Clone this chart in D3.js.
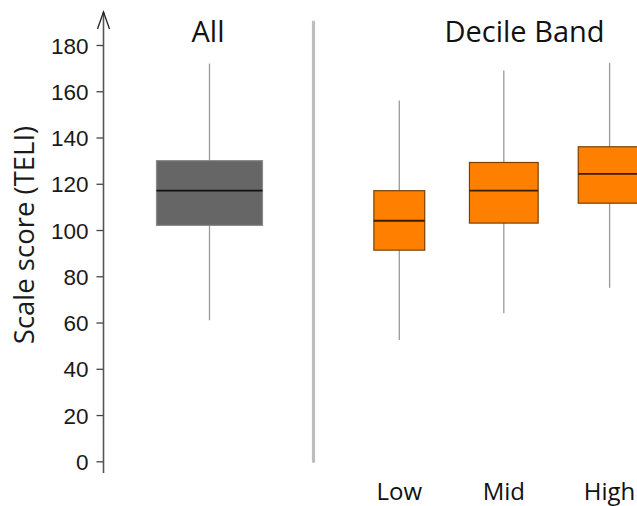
<!DOCTYPE html>
<html>
<head>
<meta charset="utf-8">
<script src="https://cdn.jsdelivr.net/npm/d3@7"></script>
<style>
  html, body { margin: 0; padding: 0; background: #fff; }
  svg { display: block; font-family: "Open Sans", "Noto Sans", sans-serif; }
</style>
</head>
<body>
<svg id="chart" width="637" height="506"></svg>
<script>
// ---- data ----
const groups = ["All", "Decile Band"];
const categories = ["All", "Low", "Mid", "High"];
const whiskerLow = [61, 52.5, 64, 75];
const q1 = [102, 91.3, 103, 111.6];
const median = [117, 104, 117, 124.3];
const q3 = [130, 117, 129.2, 136];
const whiskerHigh = [172, 156, 169, 172.3];
const relativeN = [100, 23, 42, 35];   // box width ∝ sqrt(n)
const yTicks = [0, 20, 40, 60, 80, 100, 120, 140, 160, 180];
const yLabel = "Scale score (TELI)";

// ---- layout ----
const svg = d3.select("#chart");
const axisX = 103.5;

const y = d3.scaleLinear().domain([0, 180]).range([461.3, 45]);
// category centres: All panel and Decile panel
const x = d3.scaleOrdinal().domain(categories).range([209.5, 399.3, 503.8, 609.6]);
const widthScale = d3.scaleSqrt().domain([0, 100]).range([0, 106]);

const fills = ["#666666", "#FF8000", "#FF8000", "#FF8000"];
const strokes = ["#8a8a8a", "#7a4000", "#7a4000", "#7a4000"];
const medStrokes = ["#111111", "#3a1c00", "#3a1c00", "#3a1c00"];

// ---- y axis ----
const yAxis = d3.axisLeft(y).tickValues(yTicks).tickSize(7).tickPadding(8);
const gAx = svg.append("g").attr("transform", `translate(${axisX},0)`).call(yAxis);
gAx.select(".domain").remove();
gAx.selectAll(".tick line").attr("stroke", "#444").attr("stroke-width", 1.3);
gAx.selectAll(".tick text")
  .attr("fill", "#1a1a1a")
  .style("font-size", "22.5px")
  .attr("dy", "0.36em");

// axis line with arrow
svg.append("line")
  .attr("x1", axisX).attr("x2", axisX)
  .attr("y1", 12).attr("y2", 473)
  .attr("stroke", "#555").attr("stroke-width", 1.6);
svg.append("path")
  .attr("d", `M${axisX - 6},${29} L${axisX},${12} L${axisX + 6},${29}`)
  .attr("fill", "none").attr("stroke", "#222").attr("stroke-width", 1.3);

// y label
svg.append("text")
  .attr("transform", `translate(34,235) rotate(-90)`)
  .attr("text-anchor", "middle")
  .attr("fill", "#1a1a1a")
  .style("font-size", "27.5px")
  .text(yLabel);

// divider
svg.append("line")
  .attr("x1", 313.5).attr("x2", 313.5)
  .attr("y1", 22).attr("y2", 461.5)
  .attr("stroke", "#bdbdbd").attr("stroke-width", 3.2)
  .attr("stroke-linecap", "round");

// group titles
const groupX = d3.scaleOrdinal().domain(groups).range([208, 524.5]);
svg.selectAll("text.group").data(groups).enter().append("text")
  .attr("class", "group")
  .attr("x", d => groupX(d))
  .attr("y", 41.5)
  .attr("text-anchor", "middle")
  .attr("fill", "#111")
  .style("font-size", "29px")
  .text(d => d);

// category labels (decile only)
svg.selectAll("text.cat").data(categories.slice(1)).enter().append("text")
  .attr("class", "cat")
  .attr("x", d => x(d))
  .attr("y", 500)
  .attr("text-anchor", "middle")
  .attr("fill", "#111")
  .style("font-size", "24px")
  .text(d => d);

// ---- boxes ----
const idx = d3.range(categories.length);
const g = svg.append("g");
// whiskers
g.selectAll("line.whisk").data(idx).enter().append("line")
  .attr("x1", i => x(categories[i])).attr("x2", i => x(categories[i]))
  .attr("y1", i => y(whiskerHigh[i])).attr("y2", i => y(whiskerLow[i]))
  .attr("stroke", "#9a9a9a").attr("stroke-width", 1.3);
// boxes
g.selectAll("rect.box").data(idx).enter().append("rect")
  .attr("x", i => x(categories[i]) - widthScale(relativeN[i]) / 2)
  .attr("width", i => widthScale(relativeN[i]))
  .attr("y", i => y(q3[i]))
  .attr("height", i => y(q1[i]) - y(q3[i]))
  .attr("fill", i => fills[i])
  .attr("stroke", i => strokes[i])
  .attr("stroke-width", 1.2);
// medians
g.selectAll("line.med").data(idx).enter().append("line")
  .attr("x1", i => x(categories[i]) - widthScale(relativeN[i]) / 2)
  .attr("x2", i => x(categories[i]) + widthScale(relativeN[i]) / 2)
  .attr("y1", i => y(median[i])).attr("y2", i => y(median[i]))
  .attr("stroke", i => medStrokes[i]).attr("stroke-width", 1.8);
</script>
</body>
</html>
